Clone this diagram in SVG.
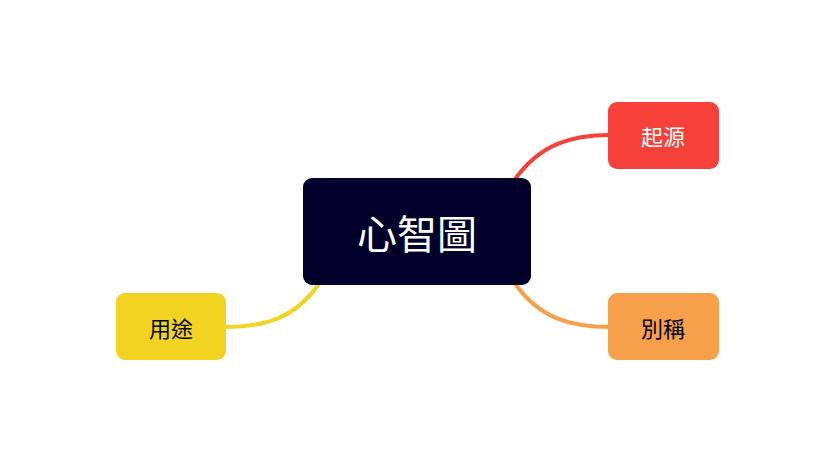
<svg xmlns="http://www.w3.org/2000/svg" width="828" height="462" viewBox="0 0 828 462">
<style>
.t{font-family:"Noto Sans CJK TC","Noto Sans CJK SC",sans-serif;text-anchor:middle;dominant-baseline:central}
.c{fill:none;stroke-width:4;stroke-linecap:round}
</style>
<rect width="828" height="462" fill="#fff"/>
<g id="connectors">
<path class="c" stroke="#f5413a" d="M516,178 C540,145 570,135 610,135"/>
<path class="c" stroke="#f7a04b" d="M516,285 C540,318 570,327 610,327"/>
<path class="c" stroke="#f2d321" d="M318,285 C295,318 265,327 224,327"/>
</g>
<g id="center"><rect x="303" y="178" width="228" height="107" rx="9" fill="#00002a"/><text class="t" x="417" y="232" font-size="40" fill="#fff">心智圖</text></g>
<g id="origin"><rect x="608" y="102" width="111" height="67" rx="9" fill="#f5413a"/><text class="t" x="663" y="135" font-size="22" fill="#fff">起源</text></g>
<g id="alias"><rect x="608" y="293" width="111" height="67" rx="9" fill="#f7a04b"/><text class="t" x="663" y="327" font-size="22" fill="#000">別稱</text></g>
<g id="usage"><rect x="116" y="293" width="110" height="67" rx="9" fill="#f2d321"/><text class="t" x="171" y="327" font-size="22" fill="#000">用途</text></g>
</svg>
